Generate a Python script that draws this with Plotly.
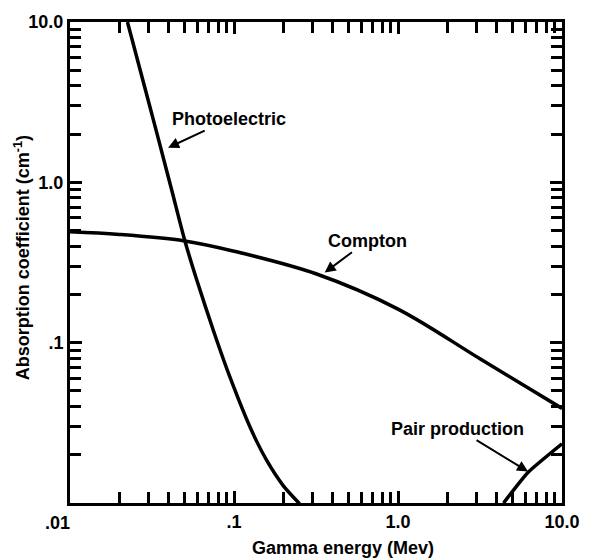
import plotly.graph_objects as go

# Data (energy in MeV, absorption coefficient in cm^-1)
photo_E = [0.0224, 0.030, 0.035, 0.042, 0.0499, 0.0589, 0.0753, 0.095, 0.127, 0.158, 0.200, 0.251]
photo_mu = [10.0, 3.24, 1.78, 0.87, 0.44, 0.251, 0.117, 0.060, 0.0288, 0.0185, 0.0128, 0.0099]

compton_E = [0.01, 0.02, 0.05, 0.1, 0.316, 1.0, 3.16, 10.0]
compton_mu = [0.491, 0.473, 0.431, 0.372, 0.269, 0.162, 0.0794, 0.0389]

pair_E = [4.4, 6.2, 10.0]
pair_mu = [0.01, 0.0155, 0.0234]

x_tickvals = [0.1, 1.0, 10.0]
x_ticktext = [".1", "1.0", "10.0"]
y_tickvals = [0.1, 1.0, 10.0]
y_ticktext = [".1", "1.0", "10.0"]
minor_vals = [k * 10.0 ** p for p in (-2, -1, 0) for k in range(2, 10)]

FONT = "Liberation Sans"
BOLD18 = dict(family=FONT, size=18, color="black", weight="bold")

fig = go.Figure()
for E, mu, name, smooth in [(photo_E, photo_mu, "Photoelectric", 0.6),
                            (compton_E, compton_mu, "Compton", 1.0),
                            (pair_E, pair_mu, "Pair production", 0.5)]:
    fig.add_trace(go.Scatter(x=E, y=mu, mode="lines",
                             line=dict(shape="spline", smoothing=smooth, color="black", width=3.5),
                             name=name, showlegend=False, hoverinfo="skip"))

# invisible trace so the top/right tick axes are drawn
fig.add_trace(go.Scatter(x=[0.01, 10], y=[0.01, 10], xaxis="x2", yaxis="y2", mode="markers",
                         marker=dict(opacity=0), showlegend=False, hoverinfo="skip"))

axis_common = dict(
    type="log",
    range=[-2, 1],
    showgrid=False,
    zeroline=False,
    showline=True,
    linecolor="black",
    linewidth=3,
    ticks="inside",
    ticklen=12,
    tickwidth=2.5,
    tickcolor="black",
    tickmode="array",
    tickfont=BOLD18,
    minor=dict(ticks="inside", ticklen=11, tickwidth=2.5, tickcolor="black",
               showgrid=False, tickmode="array", tickvals=minor_vals),
)

fig.update_layout(
    xaxis=dict(tickvals=x_tickvals, ticktext=x_ticktext, **axis_common),
    yaxis=dict(tickvals=y_tickvals, ticktext=y_ticktext, **axis_common),
    xaxis2=dict(tickvals=x_tickvals, overlaying="x", side="top", showticklabels=False,
                **axis_common),
    yaxis2=dict(tickvals=y_tickvals, overlaying="y", side="right", showticklabels=False,
                **axis_common),
)

# ".01" label sits just left of the corner
fig.add_annotation(x=-2, y=0, xref="x", yref="paper", text=".01", showarrow=False,
                   xanchor="right", yanchor="top", xshift=2, yshift=-8, font=BOLD18)

# Axis titles
fig.add_annotation(x=0.554, y=-0.0926, xref="paper", yref="paper", text="Gamma energy (Mev)",
                   xanchor="center", yanchor="middle", showarrow=False, font=BOLD18)
fig.add_annotation(x=-0.0964, y=0.51, xref="paper", yref="paper",
                   text="Absorption coefficient (cm<sup>-1</sup>)", textangle=-90,
                   xanchor="center", yanchor="middle", showarrow=False, font=BOLD18)

# Curve labels with arrows: (text, head x, head y, text-centre x, text-centre y) in log10 units
labels = [
    ("Photoelectric", -1.402, 0.216, -1.028, 0.394),
    ("Compton", -0.447, -0.563, -0.187, -0.364),
    ("Pair production", 0.793, -1.804, 0.364, -1.536),
]
for text, hx, hy, tx, ty in labels:
    fig.add_annotation(x=hx, y=hy, ax=tx, ay=ty, xref="x", yref="y", axref="x", ayref="y",
                       text=text, font=BOLD18, showarrow=True, arrowhead=2, arrowsize=1.1,
                       arrowwidth=2, arrowcolor="black", standoff=0)

fig.update_layout(
    width=592, height=559,
    margin=dict(l=70, r=24, t=17, b=56),
    paper_bgcolor="white", plot_bgcolor="white",
    font=dict(family=FONT, color="black"),
)

fig.write_html("out.html")
